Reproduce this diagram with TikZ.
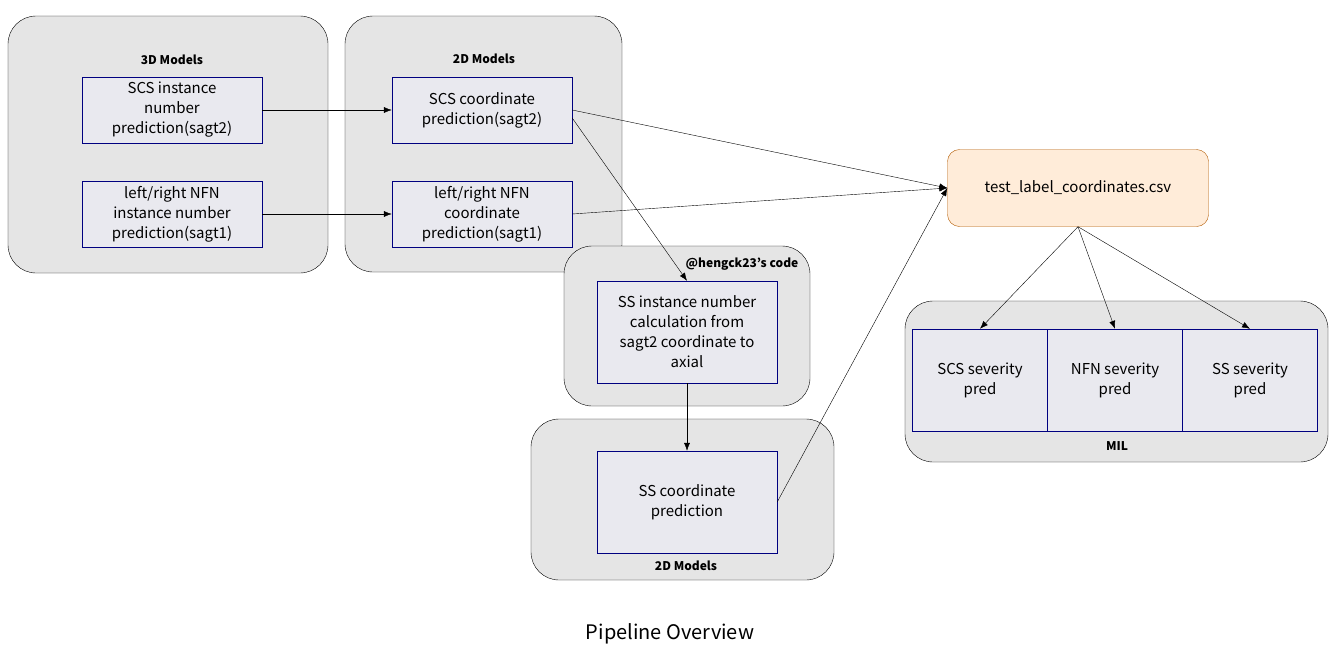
\documentclass[tikz,border=0pt]{standalone}
\usepackage{fontspec}
\setmainfont{Noto Sans CJK JP}
\usetikzlibrary{arrows.meta, positioning}

\tikzset{
  group/.style={draw=black, fill=black!10, rounded corners=28pt},
  task/.style={draw=blue!50!black, fill=blue!15!gray!15!white, align=center,
    inner sep=0pt, font=\fontsize{15}{20}\selectfont},
  grouplabel/.style={font=\fontsize{12}{14}\selectfont\bfseries},
  link/.style={-{Latex[length=8pt,width=6pt]}, thin}
}

\begin{document}
\begin{tikzpicture}[x=1pt, y=-1pt]
\useasboundingbox (0,0) rectangle (1337,662);

% groups
  \draw[group] (8,16) rectangle (328,273);
  \draw[group] (345,16) rectangle (622,272);
  \draw[group] (564,246) rectangle (810,406);
  \draw[group] (531,419) rectangle (834,580);
  \draw[group] (905,301) rectangle (1328,462);

  \node[grouplabel] (g3d)  at (172,60)  {3D Models};
  \node[grouplabel] (g2d)  at (484,59)  {2D Models};
  \node[grouplabel] (ghk)  at (742,264) {@hengck23's code};
  \node[grouplabel] (g2db) at (686,566) {2D Models};
  \node[grouplabel] (gmil) at (1117,446) {MIL};

% tasks
  \node[task, minimum width=180pt, minimum height=66pt] (scsinst) at (172,110)
    {SCS instance\\number\\prediction(sagt2)};
  \node[task, minimum width=180pt, minimum height=66pt] (nfninst) at (172,214)
    {left/right NFN\\instance number\\prediction(sagt1)};
  \node[task, minimum width=180pt, minimum height=66pt] (scscoord) at (482,110)
    {SCS coordinate\\prediction(sagt2)};
  \node[task, minimum width=180pt, minimum height=66pt] (nfncoord) at (482,214)
    {left/right NFN\\coordinate\\prediction(sagt1)};
  \node[task, minimum width=180pt, minimum height=102pt] (sscalc) at (687,332)
    {SS instance number\\calculation from\\sagt2 coordinate to\\axial};
  \node[task, minimum width=180pt, minimum height=102pt] (sscoord) at (687,502)
    {SS coordinate\\prediction};
  \node[task, draw=orange!70!black, fill=orange!15, rounded corners=12pt,
    minimum width=261pt, minimum height=77pt] (csv) at (1078,188)
    {test\_label\_coordinates.csv};
  \node[task, minimum width=135pt, minimum height=102pt] (scssev) at (980,380)
    {SCS severity\\pred};
  \node[task, minimum width=135pt, minimum height=102pt] (nfnsev) at (1115,380)
    {NFN severity\\pred};
  \node[task, minimum width=135pt, minimum height=102pt] (sssev) at (1250,380)
    {SS severity\\pred};

% links
  \draw[link] (scsinst) -- (scscoord);
  \draw[link] (nfninst) -- (nfncoord);
  \draw[link] (scscoord.east) -- (csv.west);
  \draw[link] (nfncoord.east) -- (csv.west);
  \draw[link] ([yshift=-8pt]scscoord.east) -- (sscalc.north);
  \draw[link] (sscalc) -- (sscoord);
  \draw[link] (sscoord.east) -- (csv.west);
  \draw[link] (csv.south) -- (scssev.north);
  \draw[link] (csv.south) -- (nfnsev.north);
  \draw[link] (csv.south) -- (sssev.north);

  \node[font=\fontsize{20}{24}\selectfont] (title) at (670,634) {Pipeline Overview};
\end{tikzpicture}
\end{document}
